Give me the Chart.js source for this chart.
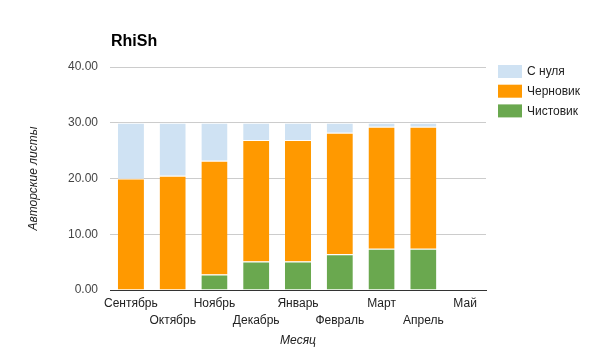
<!DOCTYPE html>
<html>

<head>
    <title>RhiSh</title>
    <script src="https://cdn.jsdelivr.net/npm/chart.js"></script>
    <style>
        html, body { margin: 0; padding: 0; background: #fff; }
        #wrap { width: 589px; height: 354px; }
    </style>
</head>

<body>

    <div id="wrap"><canvas id="myChart"></canvas></div>

    <script>
        // months (categories)
        var months = ['Сентябрь', 'Октябрь', 'Ноябрь', 'Декабрь', 'Январь', 'Февраль', 'Март', 'Апрель', 'Май'];
        // series, bottom to top of the stack
        var clean = [0, 0, 2.8, 5.1, 5.1, 6.4, 7.4, 7.4, 0];        // Чистовик
        var draft = [20, 20.5, 20.4, 21.8, 21.8, 21.8, 21.9, 21.9, 0]; // Черновик
        var scratch = [10, 9.5, 6.8, 3.1, 3.1, 1.8, 0.7, 0.7, 0];   // С нуля
        var yTicks = [0, 10, 20, 30, 40];

        var fontFamily = '"Liberation Sans", Arial, sans-serif';

        // odd months go on the second row, like the original
        var labels = months.map(function (m, i) { return i % 2 ? ['', m] : m; });

        var titlePlugin = {
            id: 'leftTitle',
            afterDraw(chart) {
                var c = chart.ctx;
                c.save();
                c.font = 'bold 16px ' + fontFamily;
                c.fillStyle = '#000';
                c.textBaseline = 'alphabetic';
                c.textAlign = 'left';
                c.fillText('RhiSh', chart.chartArea.left + 1, 46);
                c.restore();
            }
        };

        var legendPlugin = {
            id: 'sideLegend',
            afterDraw(chart) {
                var c = chart.ctx;
                var sets = chart.data.datasets.slice().reverse();
                c.save();
                c.font = '12px ' + fontFamily;
                c.textBaseline = 'middle';
                c.textAlign = 'left';
                sets.forEach(function (ds, i) {
                    var y = 65 + i * 19.7;
                    c.fillStyle = ds.backgroundColor;
                    c.fillRect(498, y, 24, 13);
                    c.fillStyle = '#222';
                    c.fillText(ds.label, 527, y + 7);
                });
                c.restore();
            }
        };

        var ctx = document.getElementById('myChart').getContext('2d');
        var myChart = new Chart(ctx, {
            type: 'bar',
            data: {
                labels: labels,
                datasets: [{
                    label: 'Чистовик',
                    data: clean,
                    backgroundColor: '#6aa84f',
                    borderColor: '#ffffff',
                    borderWidth: { top: 1 }
                }, {
                    label: 'Черновик',
                    data: draft,
                    backgroundColor: '#ff9900',
                    borderColor: '#ffffff',
                    borderWidth: { top: 1 }
                }, {
                    label: 'С нуля',
                    data: scratch,
                    backgroundColor: '#cfe2f3',
                    borderColor: '#ffffff',
                    borderWidth: { top: 1 }
                }]
            },
            options: {
                responsive: true,
                maintainAspectRatio: false,
                animation: false,
                datasets: {
                    bar: { barPercentage: 0.625, categoryPercentage: 1 }
                },
                layout: {
                    padding: { top: 67, left: 26, right: 103, bottom: 0 }
                },
                plugins: {
                    legend: { display: false },
                    tooltip: { enabled: false }
                },
                scales: {
                    x: {
                        stacked: true,
                        grid: { display: false, drawTicks: false },
                        border: { display: true, color: '#333', width: 1 },
                        ticks: {
                            autoSkip: false,
                            maxRotation: 0,
                            padding: 5,
                            color: '#222',
                            font: { family: fontFamily, size: 12, lineHeight: 1.4 }
                        },
                        title: {
                            display: true,
                            text: 'Месяц',
                            color: '#222',
                            padding: { top: 0, bottom: 6 },
                            font: { family: fontFamily, size: 12, style: 'italic' }
                        },
                        afterFit(s) { s.height = 64; }
                    },
                    y: {
                        stacked: true,
                        min: 0,
                        max: 40,
                        afterBuildTicks(s) { s.ticks = yTicks.map(function (v) { return { value: v }; }); },
                        grid: { color: '#cccccc', drawTicks: false },
                        border: { display: false },
                        ticks: {
                            padding: 12,
                            color: '#444',
                            font: { family: fontFamily, size: 12 },
                            callback: function (v) { return Number(v).toFixed(2); }
                        },
                        title: {
                            display: true,
                            text: 'Авторские листы',
                            color: '#222',
                            padding: { top: 0, bottom: 0 },
                            font: { family: fontFamily, size: 12, style: 'italic' }
                        },
                        afterFit(s) { s.width = 84; }
                    }
                }
            },
            plugins: [titlePlugin, legendPlugin]
        });
    </script>

</body>

</html>
